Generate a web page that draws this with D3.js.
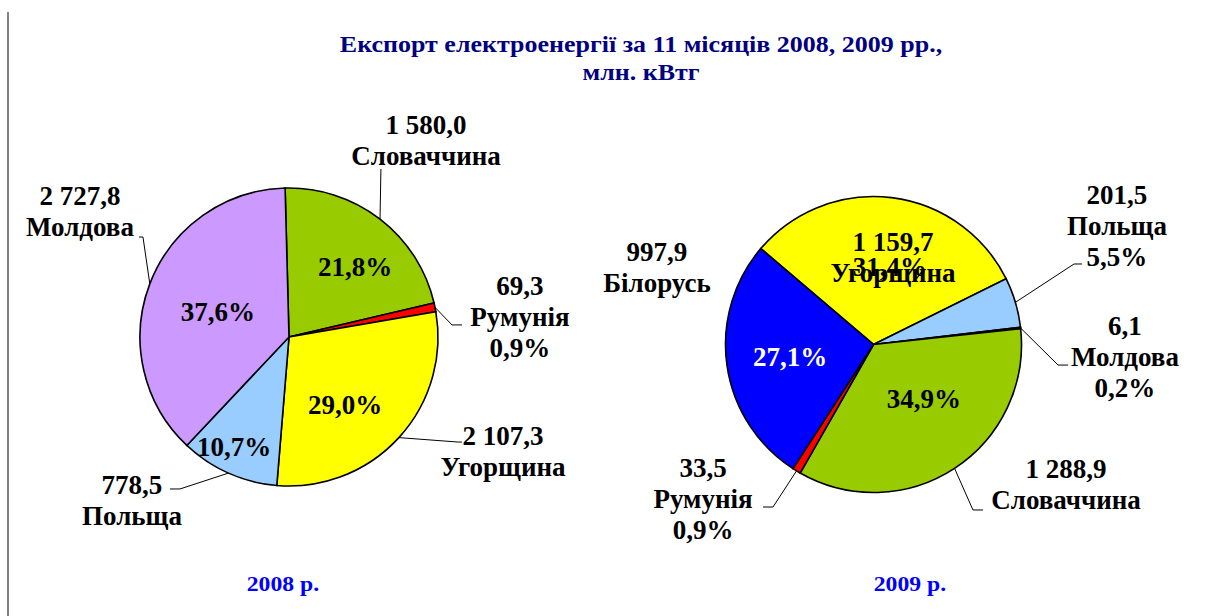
<!DOCTYPE html>
<html lang="uk">
<head>
    <meta charset="utf-8" />
    <title>Експорт електроенергії</title>
    <style>
        body {
            margin: 0;
            background-color: white;
        }

        text {
            font-family: 'Liberation Serif', 'Times New Roman', Times, serif;
            font-weight: bold;
        }

        text.title {
            fill: #000080;
            font-size: 23px;
            text-anchor: middle;
        }

        text.year {
            fill: #0000ff;
            font-size: 21px;
            text-anchor: middle;
        }

        text.lbl {
            font-size: 27px;
            text-anchor: middle;
        }

        path.slice {
            stroke: black;
            stroke-width: 1.6px;
        }

        path.leader {
            stroke: black;
            stroke-width: 1px;
            fill: none;
        }
    </style>
    <script src="https://d3js.org/d3.v7.min.js"></script>
</head>
<body>
    <svg id="vis" width="1210" height="616"></svg>
    <script type="text/javascript">
        // data
        var countries2008 = ["Словаччина", "Румунія", "Угорщина", "Польща", "Молдова"];
        var values2008 = [1580.0, 69.3, 2107.3, 778.5, 2727.8];
        var pct2008 = [21.8, 0.9, 29.0, 10.7, 37.6];

        var countries2009 = ["Угорщина", "Польща", "Молдова", "Словаччина", "Румунія", "Білорусь"];
        var values2009 = [1159.7, 201.5, 6.1, 1288.9, 33.5, 997.9];
        var pct2009 = [31.4, 5.5, 0.2, 34.9, 0.9, 27.1];

        var titleLines = ["Експорт електроенергії за 11 місяців 2008, 2009 рр.,", "млн. кВтг"];
        var yearLabels = ["2008 р.", "2009 р."];

        var colors = {
            "Словаччина": "#99cc00",
            "Румунія": "#ff0000",
            "Угорщина": "#ffff00",
            "Польща": "#99ccff",
            "Молдова": "#cc99ff",
            "Білорусь": "#0000ff"
        };

        // label layout, in units of the radius from the pie centre
        // block: [ux, uy, pct shown in block], inside pct: [ux, uy], leader elbow: [ux, uy, tail px]
        var layout2008 = {
            cx: 289, cy: 337, r: 149, start: -1.5,
            block: [[0.92, -1.319, false], [1.55, -0.134, true], [1.436, 0.768, false], [-1.054, 1.094, false], [-1.403, -0.846, false]],
            inside: [[0.443, -0.470], null, [0.376, 0.450], [-0.369, 0.738], [-0.477, -0.174]],
            leader: [[0.617, -1.128, 0], [1.094, -0.081, 10], [1.134, 0.705, 4], [-0.732, 1.020, -10], [-0.980, -0.671, -4]]
        };
        var layout2009 = {
            cx: 873.5, cy: 344.5, r: 148, start: -49.6,
            block: [[0.132, -0.591, false], [1.645, -0.801, true], [1.699, 0.084, true], [1.301, 0.943, false], [-1.152, 1.044, true], [-1.463, -0.524, false]],
            inside: [[0.111, -0.53], null, null, [0.341, 0.368], null, [-0.564, 0.078]],
            leader: [null, [1.355, -0.544, 8], [1.247, 0.139, 10], [0.672, 1.118, 10], [-0.679, 1.098, -10], null]
        };

        var locale = d3.formatLocale({ decimal: ",", thousands: " ", grouping: [3], currency: ["", ""] });
        var fmtVal = locale.format(",.1f");
        var fmtPct = function (p) { return locale.format(".1f")(p) + "%"; };

        var svg = d3.select("#vis");
        var lineStep = 31;
        var stretch = 1.13; // the source text is a bit wider than the font

        // left frame edge
        svg.append("line").attr("x1", 8).attr("x2", 8).attr("y1", 12).attr("y2", 616)
            .attr("stroke", "#808080").attr("stroke-width", 2);

        svg.selectAll("text.title").data(titleLines).enter().append("text")
            .attr("class", "title")
            .attr("transform", function (d, i) { return "translate(641," + (52 + i * 28) + ") scale(" + stretch + ",1)"; })
            .text(function (d) { return d; });

        function drawPie(countries, values, pcts, lay, yearText, yearX) {
            var data = countries.map(function (c, i) { return { name: c, value: values[i], pct: pcts[i], i: i }; });
            var a0 = lay.start * Math.PI / 180;
            var pie = d3.pie().sort(null).value(function (d) { return d.value; })
                .startAngle(a0).endAngle(a0 + 2 * Math.PI);
            var arcs = pie(data);
            var arc = d3.arc().innerRadius(0).outerRadius(lay.r);
            var edge = d3.arc().innerRadius(lay.r).outerRadius(lay.r);

            var g = svg.append("g").attr("transform", "translate(" + lay.cx + "," + lay.cy + ")");

            g.selectAll("path.slice").data(arcs).enter().append("path")
                .attr("class", "slice")
                .attr("d", arc)
                .attr("fill", function (d) { return colors[d.data.name]; });

            // leader lines
            g.selectAll("path.leader").data(arcs.filter(function (d) { return lay.leader[d.data.i]; }))
                .enter().append("path")
                .attr("class", "leader")
                .attr("d", function (d) {
                    var s = edge.centroid(d);
                    var l = lay.leader[d.data.i];
                    var ex = l[0] * lay.r, ey = l[1] * lay.r;
                    return "M" + s[0] + "," + s[1] + "L" + ex + "," + ey + "L" + (ex + l[2]) + "," + ey;
                });

            // pct inside slices
            g.selectAll("text.inpct").data(arcs.filter(function (d) { return lay.inside[d.data.i]; }))
                .enter().append("text")
                .attr("class", "lbl inpct")
                .attr("x", function (d) { return lay.inside[d.data.i][0] * lay.r; })
                .attr("y", function (d) { return lay.inside[d.data.i][1] * lay.r; })
                .attr("dy", "0.35em")
                .attr("fill", function (d) { return d.data.name == "Білорусь" ? "white" : "black"; })
                .text(function (d) { return fmtPct(d.data.pct); });

            // value / name blocks
            var blocks = g.selectAll("g.block").data(arcs).enter().append("g")
                .attr("class", "block")
                .attr("transform", function (d) {
                    var b = lay.block[d.data.i];
                    return "translate(" + (b[0] * lay.r) + "," + (b[1] * lay.r) + ")";
                });

            blocks.selectAll("text").data(function (d) {
                var lines = [fmtVal(d.data.value), d.data.name];
                if (lay.block[d.data.i][2]) lines.push(fmtPct(d.data.pct));
                return lines.map(function (t, k) { return { t: t, k: k, n: lines.length }; });
            }).enter().append("text")
                .attr("class", "lbl")
                .attr("x", 0)
                .attr("y", function (d) { return (d.k - (d.n - 1) / 2) * lineStep; })
                .attr("dy", "0.35em")
                .attr("fill", "black")
                .text(function (d) { return d.t; });

            svg.append("text").attr("class", "year")
                .attr("transform", "translate(" + yearX + ",591) scale(" + stretch + ",1)")
                .text(yearText);
        }

        drawPie(countries2008, values2008, pct2008, layout2008, yearLabels[0], 283);
        drawPie(countries2009, values2009, pct2009, layout2009, yearLabels[1], 910);
    </script>
</body>
</html>
